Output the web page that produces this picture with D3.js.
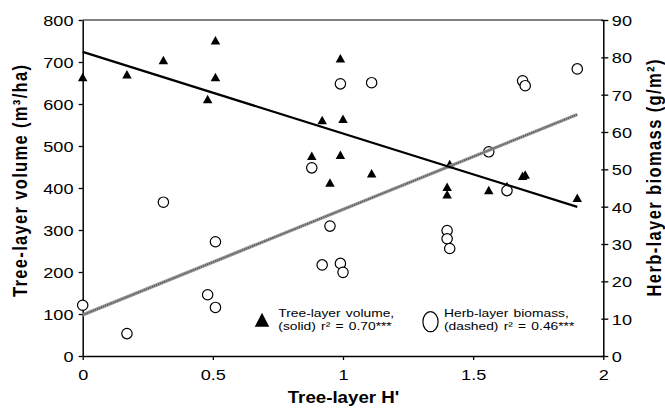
<!DOCTYPE html>
<html>
<head>
<meta charset="utf-8">
<script src="https://cdn.jsdelivr.net/npm/d3@7/dist/d3.min.js"></script>
<style>
  html, body { margin: 0; padding: 0; background: #fff; }
  svg { display: block; font-family: "Liberation Sans", Arial, Helvetica, sans-serif; }
</style>
</head>
<body>
<svg id="chart" width="665" height="408"></svg>
<script>
// Tree-layer Shannon diversity (H') of each plot
const treeH = [0.00, 0.17, 0.31, 0.51, 0.51, 0.48, 0.99, 0.92, 1.00, 0.88, 0.99, 0.95, 1.11, 1.41, 1.40, 1.40, 1.56, 1.63, 1.69, 1.70, 1.90];
// Tree-layer volume (m3/ha) for those plots
const treeVolume = [664, 671, 705, 752, 664, 612, 709, 562, 565, 477, 479, 413, 435, 457, 403, 385, 395, 405, 429, 432, 377];

// Herb-layer biomass (g/m2) against tree-layer H'
const herbH = [0.00, 0.17, 0.31, 0.48, 0.51, 0.51, 0.88, 0.95, 0.92, 0.99, 1.00, 0.99, 1.11, 1.40, 1.40, 1.41, 1.56, 1.63, 1.69, 1.70, 1.90];
const herbBiomass = [13.6, 6.0, 41.2, 16.4, 13.0, 30.6, 50.4, 34.8, 24.4, 24.8, 22.4, 72.9, 73.2, 33.6, 31.4, 28.8, 54.7, 44.3, 73.7, 72.4, 76.9];

// Fitted regression lines (endpoints over the sampled H' range)
const fitH = [0, 1.9];
const treeFit = [724, 355];
const herbFit = [11.0, 64.7];

// Axis ticks
const xTicks = [0, 0.5, 1, 1.5, 2];
const volumeTicks = [0, 100, 200, 300, 400, 500, 600, 700, 800];
const biomassTicks = [0, 10, 20, 30, 40, 50, 60, 70, 80, 90];

const svg = d3.select("#chart");
const plotL = 82.7, plotR = 603.3, plotT = 20, plotB = 356;
const SX = 1.17; // horizontal glyph stretch of the typeface

const x = d3.scaleLinear().domain([0, 2]).range([plotL, plotR]);
const yVol = d3.scaleLinear().domain([0, 800]).range([plotB, plotT]);
const yBio = d3.scaleLinear().domain([0, 90]).range([plotB, plotT]);

// top frame line
svg.append("line")
  .attr("x1", plotL).attr("x2", plotR).attr("y1", plotT).attr("y2", plotT)
  .attr("stroke", "#555").attr("stroke-width", 1.5);

function styleAxis(g) {
  g.select(".domain").attr("stroke", "#000").attr("stroke-width", 1.5);
  g.selectAll(".tick line").attr("stroke", "#000").attr("stroke-width", 1.3);
  g.selectAll(".tick text").attr("fill", "#000").attr("font-size", 15.5);
}

// bottom axis
const gx = svg.append("g").attr("transform", `translate(0,${plotB})`)
  .call(d3.axisBottom(x).tickValues(xTicks).tickFormat(d3.format("~g")).tickSize(4).tickSizeOuter(0));
styleAxis(gx);
gx.selectAll(".tick text").attr("y", 0).attr("dy", 0)
  .attr("transform", `translate(0,24) scale(${SX},1)`);

// left axis
const gl = svg.append("g").attr("transform", `translate(${plotL},0)`)
  .call(d3.axisLeft(yVol).tickValues(volumeTicks).tickSize(4).tickSizeOuter(0));
styleAxis(gl);
gl.selectAll(".tick text").attr("x", 0).attr("dy", "0.36em")
  .attr("transform", `translate(-9.2,0) scale(${SX},1)`);

// right axis
const gr = svg.append("g").attr("transform", `translate(${plotR},0)`)
  .call(d3.axisRight(yBio).tickValues(biomassTicks).tickSize(5).tickSizeOuter(0));
styleAxis(gr);
gr.selectAll(".tick line").attr("x1", -2);
gr.selectAll(".tick text").attr("x", 0).attr("dy", "0.36em")
  .attr("transform", `translate(8.5,0) scale(${SX},1)`);

// triangles: tree-layer volume
const tri = (cx, cy, w, h) =>
  `M${cx - w / 2},${cy + h / 2}L${cx + w / 2},${cy + h / 2}L${cx},${cy - h / 2}Z`;

svg.append("g").selectAll("path")
  .data(treeH.map((h, i) => [h, treeVolume[i]]))
  .join("path")
  .attr("d", d => tri(x(d[0]), yVol(d[1]), 9.5, 8.5))
  .attr("fill", "#000");

// circles: herb-layer biomass
svg.append("g").selectAll("circle")
  .data(herbH.map((h, i) => [h, herbBiomass[i]]))
  .join("circle")
  .attr("cx", d => x(d[0])).attr("cy", d => yBio(d[1]))
  .attr("r", 5.2)
  .attr("fill", "#fff").attr("stroke", "#000").attr("stroke-width", 1.2);

// herb-layer regression (grey speckled line)
const herbLine = d3.line().x(d => x(d[0])).y(d => yBio(d[1]));
const herbPts = fitH.map((h, i) => [h, herbFit[i]]);
svg.append("path").attr("d", herbLine(herbPts))
  .attr("fill", "none").attr("stroke", "#959595").attr("stroke-width", 3.4);
svg.append("path").attr("d", herbLine(herbPts))
  .attr("fill", "none").attr("stroke", "#4a4a4a").attr("stroke-width", 1.4)
  .attr("stroke-dasharray", "1,1.2");

// tree-layer regression (solid)
const treeLine = d3.line().x(d => x(d[0])).y(d => yVol(d[1]));
svg.append("path").attr("d", treeLine(fitH.map((h, i) => [h, treeFit[i]])))
  .attr("fill", "none").attr("stroke", "#000").attr("stroke-width", 2.2);

// legend
const legend = svg.append("g");
legend.append("path").attr("d", tri(262, 319.7, 14.5, 14)).attr("fill", "#000");
legend.append("ellipse").attr("cx", 430.5).attr("cy", 321.7).attr("rx", 7.6).attr("ry", 10)
  .attr("fill", "#fff").attr("stroke", "#000").attr("stroke-width", 1.2);

function legendText(tx, lines) {
  const t = legend.append("text")
    .attr("transform", `translate(${tx},316.7) scale(${SX},1)`)
    .attr("font-size", 11.8).attr("fill", "#000").attr("word-spacing", 1.2);
  lines.forEach((s, i) => t.append("tspan").attr("x", 0).attr("y", i * 13.6).text(s));
}
legendText(278.3, ["Tree-layer volume,", "(solid) r² = 0.70***"]);
legendText(444, ["Herb-layer biomass,", "(dashed) r² = 0.46***"]);

// axis titles
svg.append("text")
  .attr("transform", `translate(343.5,403) scale(${SX},1)`)
  .attr("text-anchor", "middle").attr("font-size", 16).attr("font-weight", "bold")
  .text("Tree-layer H'");

svg.append("text")
  .attr("transform", `translate(26.5,181) rotate(-90) scale(1,${SX})`)
  .attr("text-anchor", "middle").attr("font-size", 16.5).attr("font-weight", "bold")
  .attr("textLength", 232).attr("lengthAdjust", "spacing")
  .text("Tree-layer volume (m³/ha)");

svg.append("text")
  .attr("transform", `translate(661,178) rotate(-90) scale(1,${SX})`)
  .attr("text-anchor", "middle").attr("font-size", 16.5).attr("font-weight", "bold")
  .attr("textLength", 237).attr("lengthAdjust", "spacing")
  .text("Herb-layer biomass (g/m²)");
</script>
</body>
</html>
